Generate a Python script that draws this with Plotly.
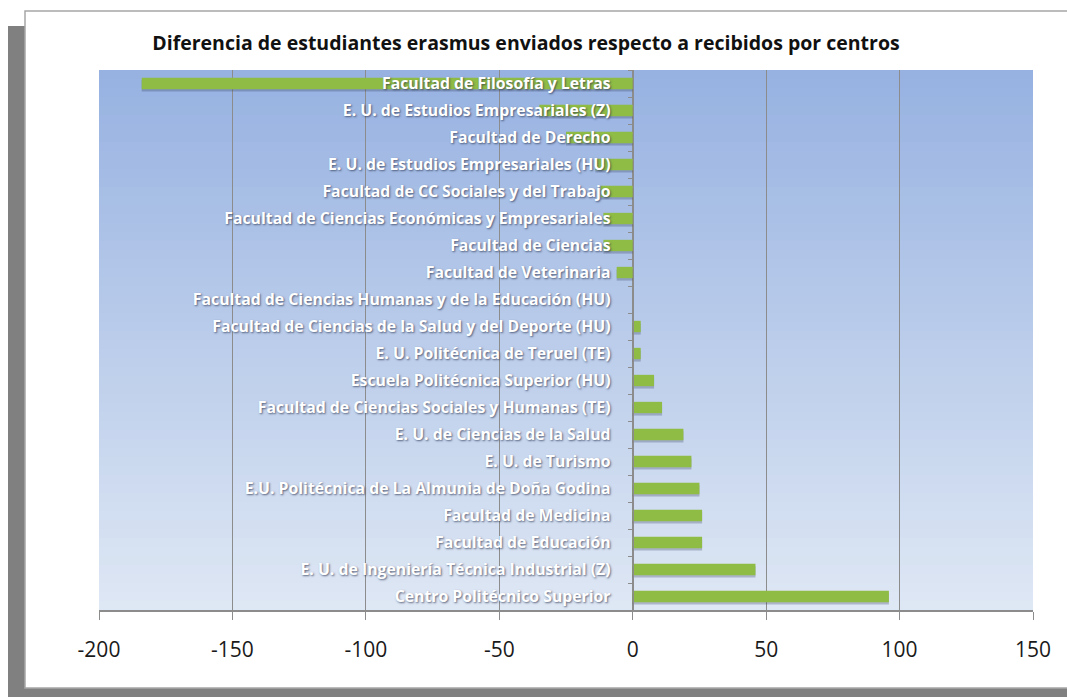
import plotly.graph_objects as go

# ---------------- data ----------------
centros = [
    "Facultad de Filosofía y Letras",
    "E. U. de Estudios Empresariales (Z)",
    "Facultad de Derecho",
    "E. U. de Estudios Empresariales (HU)",
    "Facultad de CC Sociales y del Trabajo",
    "Facultad de Ciencias Económicas y Empresariales",
    "Facultad de Ciencias",
    "Facultad de Veterinaria",
    "Facultad de Ciencias Humanas y de la Educación (HU)",
    "Facultad de Ciencias de la Salud y del Deporte (HU)",
    "E. U. Politécnica de Teruel (TE)",
    "Escuela Politécnica Superior (HU)",
    "Facultad de Ciencias Sociales y Humanas (TE)",
    "E. U. de Ciencias de la Salud",
    "E. U. de Turismo",
    "E.U. Politécnica de La Almunia de Doña Godina",
    "Facultad de Medicina",
    "Facultad de Educación",
    "E. U. de Ingeniería Técnica Industrial (Z)",
    "Centro Politécnico Superior",
]
diferencia = [-184, -35, -25, -14, -12, -11, -11, -6, 0, 3, 3, 8, 11, 19, 22, 25, 26, 26, 46, 96]

x_range = [-200, 150]
x_ticks = [-200, -150, -100, -50, 0, 50, 100, 150]
titulo = "Diferencia de estudiantes erasmus enviados respecto a recibidos por centros"

# ---------------- layout geometry (pixels) ----------------
W, H = 1067, 697
PL, PR, PT, PB = 99, 1033, 70, 610   # plot area edges in pixels
FONT = "Open Sans, Lato, sans-serif"
BAR_W = 0.42


def px_x(p):
    return (p - PL) / (PR - PL)


def px_y(p):
    return (PB - p) / (PB - PT)


shapes = []
# frame shadow
shapes.append(dict(type="rect", xref="paper", yref="paper",
                   x0=px_x(8), x1=px_x(W + 5), y0=px_y(26), y1=px_y(H + 5),
                   fillcolor="#808080", line=dict(width=0), layer="below"))
# white frame
shapes.append(dict(type="rect", xref="paper", yref="paper",
                   x0=px_x(25), x1=px_x(W + 5), y0=px_y(11), y1=px_y(688),
                   fillcolor="white", line=dict(color="#a6a6a6", width=1.5), layer="below"))

# vertical gradient background of plot area
top_c = (151, 178, 225)
bot_c = (222, 231, 244)
n = 60
for i in range(n):
    t = i / (n - 1)
    c = tuple(round(top_c[k] + (bot_c[k] - top_c[k]) * t) for k in range(3))
    shapes.append(dict(type="rect", xref="x domain", yref="y domain",
                       x0=0, x1=1, y0=1 - (i + 1) / n - 0.002, y1=1 - i / n,
                       fillcolor="rgb(%d,%d,%d)" % c, line=dict(width=0), layer="below"))

fig = go.Figure()
# soft shadow under the bars
fig.add_trace(go.Bar(
    x=diferencia, y=centros, orientation="h",
    width=BAR_W, offset=-BAR_W / 2 + 0.09,
    marker=dict(color="rgba(45,55,90,0.28)", line=dict(width=0)),
    hoverinfo="skip",
))
fig.add_trace(go.Bar(
    x=diferencia, y=centros, orientation="h",
    width=BAR_W, offset=-BAR_W / 2,
    marker=dict(color="#8fbc45", line=dict(width=0)),
    hoverinfo="x+y",
))

zero_pos = (0 - x_range[0]) / (x_range[1] - x_range[0])

fig.update_layout(
    width=W, height=H,
    margin=dict(l=PL, r=W - PR, t=PT, b=H - PB, pad=0),
    paper_bgcolor="white",
    plot_bgcolor="rgba(0,0,0,0)",
    showlegend=False,
    barmode="overlay",
    shapes=shapes,
    title=dict(text=titulo, x=526 / W, xanchor="center", y=1 - 43 / H, yanchor="middle",
               font=dict(family=FONT, size=19.5, color="#111", weight="bold")),
    xaxis=dict(
        range=x_range, tickvals=x_ticks, ticktext=[str(v) for v in x_ticks],
        showgrid=True, gridcolor="#8c8c8c", gridwidth=1,
        zeroline=True, zerolinecolor="#8c8c8c", zerolinewidth=1,
        showline=True, linecolor="#8c8c8c", linewidth=1.5,
        ticks="outside", ticklen=8, tickcolor="#8c8c8c",
        tickfont=dict(family=FONT, size=21, color="#1a1a1a"),
        ticklabelstandoff=12,
        fixedrange=True,
    ),
    yaxis=dict(
        type="category", autorange="reversed",
        anchor="free", position=zero_pos,
        showgrid=False, showline=True, linecolor="#8c8c8c", linewidth=1,
        ticks="outside", ticklen=5, tickcolor="#8c8c8c", tickson="boundaries",
        tickfont=dict(family=FONT, size=15.8, color="white", weight="bold",
                      shadow="1px 1px 2px rgba(40,50,80,0.7)"),
        ticklabelstandoff=19,
        fixedrange=True,
    ),
)

fig.write_html("out.html", config={"displayModeBar": False},
               post_script="document.body.style.margin='0';")
